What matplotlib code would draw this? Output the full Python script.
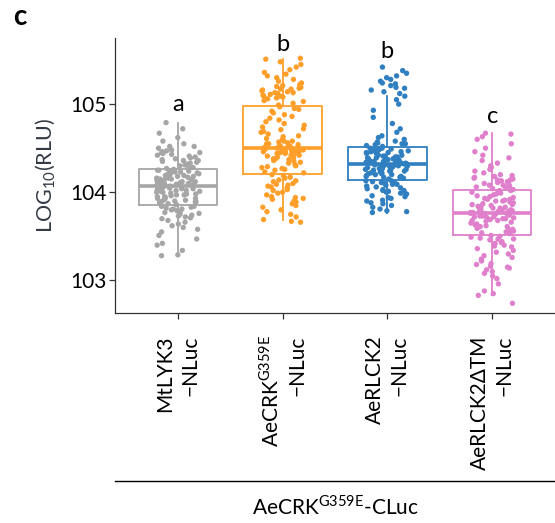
#! /usr/bin/env python3
import numpy as np
import matplotlib
matplotlib.use('Agg')
import matplotlib.pyplot as plt
from matplotlib.lines import Line2D

plt.rcParams['font.family'] = ['Lato', 'DejaVu Sans']
plt.rcParams['mathtext.fontset'] = 'custom'
plt.rcParams['mathtext.rm'] = 'Lato'

groups = ['MtLYK3\n\u2212NLuc',
          'AeCRK$^{\\mathregular{G359E}}$\n\u2212NLuc',
          'AeRLCK2\n\u2212NLuc',
          'AeRLCK2\u0394TM\n\u2212NLuc']
colors = ['#a6a6a6', '#ff9f2a', '#2f7fc1', '#e07fcb']
letters = ['a', 'b', 'b', 'c']
letter_y = [4.92, 5.60, 5.52, 4.79]

# box stats (log10 RLU)
q1 = [3.85, 4.21, 4.14, 3.52]
med = [4.07, 4.50, 4.32, 3.77]
q3 = [4.26, 4.98, 4.51, 4.03]
whislo = [3.29, 3.68, 3.77, 2.83]
whishi = [4.79, 5.51, 5.09, 4.67]

mtlyk3 = [3.28, 3.29, 3.34, 3.40, 3.42, 3.47, 3.51, 3.55, 3.58, 3.60, 3.62, 3.64, 3.66, 3.68, 3.70,
          3.71, 3.72, 3.73, 3.74, 3.75, 3.76, 3.77, 3.78, 3.79, 3.80, 3.81, 3.82, 3.83, 3.84, 3.84,
          3.86, 3.87, 3.88, 3.89, 3.90, 3.90, 3.91, 3.92, 3.93, 3.94, 3.95, 3.95, 3.96, 3.97, 3.98,
          3.98, 3.99, 4.00, 4.00, 4.01, 4.02, 4.02, 4.03, 4.03, 4.04, 4.04, 4.05, 4.05, 4.06, 4.06,
          4.08, 4.08, 4.09, 4.09, 4.10, 4.10, 4.11, 4.12, 4.12, 4.13, 4.14, 4.14, 4.15, 4.16, 4.16,
          4.17, 4.18, 4.18, 4.19, 4.20, 4.20, 4.21, 4.22, 4.22, 4.23, 4.24, 4.24, 4.25, 4.25, 4.26,
          4.27, 4.28, 4.29, 4.30, 4.31, 4.32, 4.33, 4.34, 4.35, 4.36, 4.37, 4.38, 4.39, 4.40, 4.41,
          4.42, 4.43, 4.44, 4.45, 4.46, 4.47, 4.48, 4.50, 4.52, 4.55, 4.58, 4.62, 4.67, 4.72, 4.79,
          3.93, 4.01, 4.11, 4.19, 4.07, 3.97, 4.15, 4.45, 4.52, 3.81, 3.89, 4.03, 4.13, 4.23, 4.36]

aecrk = [3.66, 3.67, 3.69, 3.72, 3.75, 3.78, 3.80, 3.83, 3.85, 3.87, 3.89, 3.90, 3.92, 3.94, 3.95,
         3.97, 3.99, 4.00, 4.02, 4.03, 4.05, 4.06, 4.08, 4.09, 4.10, 4.12, 4.13, 4.14, 4.16, 4.17,
         4.19, 4.20,
         4.22, 4.23, 4.25, 4.26, 4.28, 4.29, 4.30, 4.31, 4.33, 4.34, 4.35, 4.36, 4.37, 4.38, 4.39,
         4.40, 4.41, 4.42, 4.42, 4.43, 4.44, 4.44, 4.45, 4.45, 4.46, 4.46, 4.47, 4.47, 4.48, 4.48,
         4.49, 4.49, 4.49,
         4.50, 4.51, 4.51, 4.52, 4.53, 4.54, 4.55, 4.56, 4.57, 4.58, 4.60, 4.61, 4.63, 4.64, 4.66,
         4.68, 4.69, 4.71, 4.72, 4.74, 4.76, 4.78, 4.80, 4.82, 4.84, 4.86, 4.88, 4.90, 4.92, 4.94,
         4.95, 4.97,
         4.99, 5.01, 5.03, 5.04, 5.06, 5.07, 5.08, 5.09, 5.10, 5.11, 5.12, 5.13, 5.14, 5.15, 5.16,
         5.17, 5.18, 5.19, 5.20, 5.22, 5.24, 5.26, 5.28, 5.30, 5.32, 5.34, 5.36, 5.39, 5.42, 5.45,
         5.48, 5.51, 5.52,
         4.46, 4.48, 4.50, 4.52, 4.44, 4.55, 4.38, 4.58, 5.13, 5.17, 5.21, 5.09, 3.93, 4.07, 4.27]

aerlck2 = [3.77, 3.78, 3.79, 3.81, 3.83, 3.85, 3.87, 3.88, 3.90, 3.91, 3.93, 3.94, 3.95, 3.97, 3.98,
           3.99, 4.00, 4.01, 4.02, 4.03, 4.04, 4.05, 4.06, 4.07, 4.08, 4.09, 4.10, 4.11, 4.11, 4.12,
           4.13, 4.13,
           4.15, 4.16, 4.17, 4.17, 4.18, 4.19, 4.20, 4.20, 4.21, 4.22, 4.22, 4.23, 4.24, 4.24, 4.25,
           4.25, 4.26, 4.26, 4.27, 4.27, 4.28, 4.28, 4.29, 4.29, 4.30, 4.30, 4.30, 4.31, 4.31, 4.31,
           4.32, 4.32, 4.32,
           4.33, 4.33, 4.34, 4.34, 4.35, 4.35, 4.36, 4.36, 4.37, 4.37, 4.38, 4.38, 4.39, 4.39, 4.40,
           4.40, 4.41, 4.42, 4.42, 4.43, 4.44, 4.44, 4.45, 4.46, 4.46, 4.47, 4.48, 4.48, 4.49, 4.49,
           4.50, 4.50,
           4.52, 4.53, 4.54, 4.55, 4.56, 4.57, 4.58, 4.60, 4.62, 4.64, 4.68, 4.72, 4.78, 4.85, 4.93,
           5.00, 5.05, 5.09, 5.12, 5.14, 5.16, 5.18, 5.19, 5.21, 5.23, 5.24, 5.26, 5.28, 5.30, 5.32,
           5.35, 5.38, 5.42,
           4.21, 4.26, 4.29, 4.33, 4.36, 4.41, 4.45, 4.18, 4.02, 3.96, 4.09, 4.38, 4.47, 4.55, 4.24]

aerlck2_dtm = [2.74, 2.83, 2.85, 2.88, 2.96, 3.02, 3.05, 3.08, 3.10, 3.12, 3.14, 3.16, 3.19, 3.22, 3.24,
               3.26, 3.28, 3.30, 3.32, 3.34, 3.36, 3.38, 3.40, 3.42, 3.43, 3.44, 3.46, 3.47, 3.48, 3.49,
               3.50, 3.51,
               3.53, 3.54, 3.55, 3.56, 3.57, 3.58, 3.59, 3.60, 3.61, 3.62, 3.63, 3.64, 3.65, 3.66, 3.67,
               3.68, 3.69, 3.70, 3.70, 3.71, 3.72, 3.72, 3.73, 3.73, 3.74, 3.74, 3.75, 3.75, 3.76, 3.76,
               3.76, 3.77, 3.77,
               3.78, 3.78, 3.79, 3.79, 3.80, 3.80, 3.81, 3.82, 3.82, 3.83, 3.84, 3.85, 3.86, 3.87, 3.88,
               3.89, 3.90, 3.91, 3.92, 3.93, 3.94, 3.95, 3.96, 3.97, 3.98, 3.99, 4.00, 4.00, 4.01, 4.02,
               4.02, 4.03,
               4.04, 4.05, 4.06, 4.07, 4.08, 4.09, 4.10, 4.11, 4.12, 4.13, 4.14, 4.15, 4.16, 4.17, 4.18,
               4.19, 4.20, 4.22, 4.24, 4.26, 4.28, 4.30, 4.33, 4.36, 4.39, 4.42, 4.46, 4.50, 4.55, 4.60,
               4.63, 4.66, 4.67,
               3.61, 3.68, 3.74, 3.79, 3.84, 3.90, 3.71, 3.86, 4.08, 4.14, 3.47, 3.39, 3.18, 3.15, 3.92]

values = [mtlyk3, aecrk, aerlck2, aerlck2_dtm]
ytick_vals = [3, 4, 5]
ytick_labels = ['103', '104', '105']

fig = plt.figure(figsize=(5.55, 5.23), dpi=100)
ax = fig.add_axes([115/555, 1-313/523, 440/555, 275/523])

rng = np.random.default_rng(11)  # horizontal jitter only, like geom_jitter(width = 0.2)
for i, col in enumerate(colors):
    pos = i + 1
    stats = [dict(q1=q1[i], med=med[i], q3=q3[i], whislo=whislo[i], whishi=whishi[i], fliers=[])]
    ax.bxp(stats, positions=[pos], widths=0.75, showcaps=False, patch_artist=False,
           boxprops=dict(color=col, lw=1.3), whiskerprops=dict(color=col, lw=1.3),
           medianprops=dict(color=col, lw=2.6, solid_capstyle='butt'), manage_ticks=False)
    y = np.array(values[i])
    jit = rng.uniform(-0.21, 0.21, len(y))
    ax.scatter(pos + jit, y, s=15, color=col, edgecolors='none', zorder=3)
    ax.text(pos, letter_y[i], letters[i], ha='center', va='baseline', fontsize=17)

ax.set_xlim(0.4, 4.6)
ax.set_ylim(2.63, 5.75)
ax.set_yticks(ytick_vals)
ax.set_yticklabels(ytick_labels, fontsize=15)
ax.set_xticks([1, 2, 3, 4])
ax.set_xticklabels(groups, rotation=90, ha='center', va='top', multialignment='right',
                   fontsize=15, linespacing=1.3)
ax.set_ylabel('LOG$_{\\mathregular{10}}$(RLU)', fontsize=15.5, color='#333a44', labelpad=9)

for s in ['top', 'right']:
    ax.spines[s].set_visible(False)
for s in ['left', 'bottom']:
    ax.spines[s].set_color('#333333')
    ax.spines[s].set_linewidth(0.9)
ax.tick_params(axis='both', color='#333333', length=4, width=0.9)
ax.tick_params(axis='y', pad=2)
ax.tick_params(axis='x', pad=12)

fig.add_artist(Line2D([115/555, 1.0], [1-481/523, 1-481/523], color='black', lw=1.0))
fig.text(335/555, 1-507/523, 'AeCRK$^{\\mathregular{G359E}}$-CLuc', ha='center', va='center',
         fontsize=15)
fig.text(13/555, 1-25/523, 'c', fontsize=20, fontweight='bold', ha='left', va='baseline')

fig.savefig('out.png', dpi=100)
